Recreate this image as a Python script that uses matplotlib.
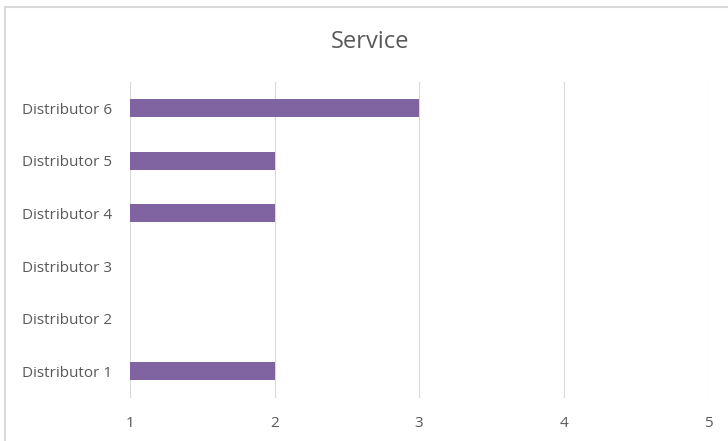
import matplotlib.pyplot as plt
from matplotlib.patches import Rectangle

# Service scores per distributor (top to bottom in the chart: 6 .. 1)
distributors = ['Distributor 1', 'Distributor 2', 'Distributor 3',
                'Distributor 4', 'Distributor 5', 'Distributor 6']
scores = [2, 1, 1, 2, 2, 3]
x_ticks = [1, 2, 3, 4, 5]

plt.rcParams['font.family'] = ['Open Sans', 'DejaVu Sans']

W, H = 728, 441
fig = plt.figure(figsize=(W / 100, H / 100), dpi=100)

# light chart-area frame (cropped on right and bottom)
fig.patches.append(Rectangle((5 / W, -0.1), 1.2, 1 - 7 / H + 0.1,
                             transform=fig.transFigure, fill=False,
                             edgecolor='#d9d9d9', lw=1.5))

ax = fig.add_axes([130 / W, 1 - 397.5 / H, 578 / W, 315.6 / H])
ypos = range(len(distributors))
ax.barh(ypos, scores, height=0.34, color='#8064a2', zorder=3)

ax.set_xlim(1, 5)
ax.set_ylim(-0.5, len(distributors) - 0.5)
ax.set_xticks(x_ticks)
ax.set_xticklabels([str(t) for t in x_ticks])
ax.set_yticks(list(ypos))
ax.set_yticklabels(distributors)
ax.grid(axis='x', color='#d9d9d9', lw=0.8, zorder=0)
ax.grid(axis='y', visible=False)
for s in ax.spines.values():
    s.set_visible(False)
ax.tick_params(length=0, labelsize=11, labelcolor='#595959')
ax.tick_params(axis='x', pad=13)
ax.tick_params(axis='y', pad=13)

fig.text(370 / W, 1 - 42 / H, 'Service', ha='center', va='center',
         fontsize=17, color='#595959')

fig.savefig('out.png', dpi=100)
